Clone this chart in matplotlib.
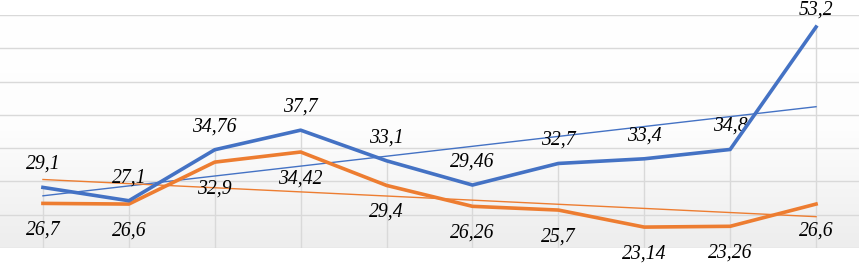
import numpy as np
import matplotlib
matplotlib.use("Agg")
import matplotlib.pyplot as plt
from matplotlib.colors import LinearSegmentedColormap

categories = list(range(1, 11))
blue_vals = [29.1, 27.1, 34.76, 37.7, 33.1, 29.46, 32.7, 33.4, 34.8, 53.2]
orange_vals = [26.7, 26.6, 32.9, 34.42, 29.4, 26.26, 25.7, 23.14, 23.26, 26.6]
blue_labels = ["29,1", "27,1", "34,76", "37,7", "33,1", "29,46", "32,7", "33,4", "34,8", "53,2"]
orange_labels = ["26,7", "26,6", "32,9", "34,42", "29,4", "26,26", "25,7", "23,14", "23,26", "26,6"]

BLUE = "#4472C4"
ORANGE = "#ED7D31"
GRID = "#d9d9d9"

W, H = 859, 263
fig = plt.figure(figsize=(W / 100, H / 100), dpi=100)
fig.patch.set_facecolor("white")
ax = fig.add_axes([0, 15 / H, 1, (248 - 15) / H])
ymin, ymax = 20, 55
ax.set_xlim(0.5, 10.5)
ax.set_ylim(ymin, ymax)

# gradient background (white top -> light gray bottom)
grad = np.linspace(0.0, 1.0, 256).reshape(-1, 1)
cmap = LinearSegmentedColormap.from_list("g", ["#ffffff", "#fdfdfd", "#ededed"])
ax.imshow(grad, extent=[0.5, 10.5, ymin, ymax], aspect="auto", cmap=cmap,
          vmin=0, vmax=1, origin="upper", zorder=0)

for y in range(20, 56, 5):
    ax.axhline(y, color=GRID, lw=1.0, zorder=1)

x = np.array(categories)
b = np.array(blue_vals)
o = np.array(orange_vals)

# drop lines
ax.vlines(x, ymin, np.maximum(b, o), color=GRID, lw=1.0, zorder=1)

# trendlines
for vals, c in ((b, BLUE), (o, ORANGE)):
    k, m = np.polyfit(x, vals, 1)
    ax.plot(x, k * x + m, color=c, lw=1.0, zorder=2)

ax.plot(x, o, color=ORANGE, lw=2.6, zorder=3, solid_joinstyle="round")
ax.plot(x, b, color=BLUE, lw=2.6, zorder=4, solid_joinstyle="round")

font = dict(family="Liberation Serif", style="italic", size=14.2, color="#000000")
for xi, v, t in zip(x, b, blue_labels):
    py = ax.transData.transform((xi, v))[1]  # pixels from bottom
    from_top = H - py
    off_px = min(23, from_top - 10)
    ax.annotate(t, (xi, v), xytext=(0, off_px * 0.72), textcoords="offset points",
                ha="center", va="center", annotation_clip=False, **font)
for xi, v, t in zip(x, o, orange_labels):
    ax.annotate(t, (xi, v), xytext=(0, -19.5), textcoords="offset points",
                ha="center", va="center", annotation_clip=False, **font)

ax.set_xticks([])
ax.set_yticks([])
for s in ax.spines.values():
    s.set_visible(False)

fig.savefig("out.png", dpi=100, facecolor="white")
